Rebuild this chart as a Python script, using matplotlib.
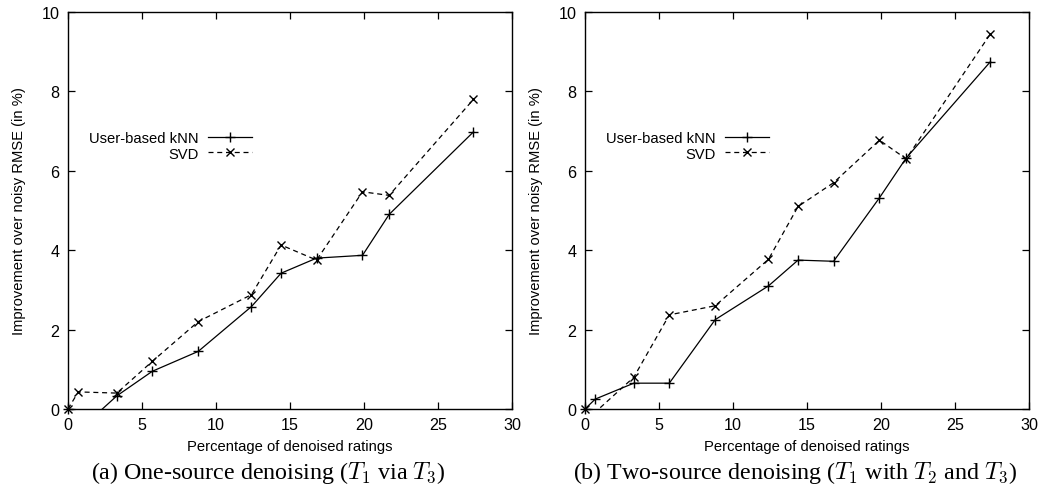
import numpy as np
import matplotlib
matplotlib.use('Agg')
import matplotlib.pyplot as plt

plt.rcParams['font.family'] = ['Liberation Sans', 'DejaVu Sans']
plt.rcParams['mathtext.fontset'] = 'cm'

# percentage of denoised ratings
pct = [0, 0.7, 3.3, 5.7, 8.8, 12.4, 14.4, 16.8, 19.9, 21.7, 27.4]

# (a) one-source denoising
knn_a = [0, -0.55, 0.33, 0.95, 1.45, 2.58, 3.42, 3.80, 3.87, 4.90, 6.98]
svd_a = [0, 0.43, 0.40, 1.20, 2.20, 2.88, 4.13, 3.75, 5.47, 5.38, 7.80]

# (b) two-source denoising
knn_b = [0, 0.25, 0.65, 0.65, 2.25, 3.10, 3.75, 3.72, 5.32, 6.32, 8.75]
svd_b = [0, -0.08, 0.80, 2.37, 2.60, 3.77, 5.10, 5.70, 6.77, 6.30, 9.45]

labels = ['User-based kNN', 'SVD']
captions = [r'(a) One-source denoising ($T_1$ via $T_3$)',
            r'(b) Two-source denoising ($T_1$ with $T_2$ and $T_3$)']

fig = plt.figure(figsize=(10.44, 4.89), dpi=100)
ax1 = fig.add_axes([0.0651, 0.1616, 0.4253, 0.8119])
ax2 = fig.add_axes([0.5603, 0.1616, 0.4253, 0.8119])

x = np.array(pct)
for ax, knn, svd in [(ax1, knn_a, svd_a), (ax2, knn_b, svd_b)]:
    handles = []
    for y, mk, ls, ms in [(knn, '+', '-', 7), (svd, 'x', (0, (4, 3)), 6)]:
        y = np.array(y)
        line, = ax.plot(x, y, color='black', lw=0.9, ls=ls)
        # markers on the axis edge stay fully visible, segments are clipped
        keep = y >= 0
        pts, = ax.plot(x[keep], y[keep], ls='none', color='black',
                       marker=mk, ms=ms, mew=1, clip_on=False)
        handles.append((line, pts))
    ax.set_xlim(0, 30)
    ax.set_ylim(0, 10)
    ax.set_xticks(range(0, 31, 5))
    ax.set_yticks(range(0, 11, 2))
    ax.tick_params(direction='in', top=True, right=True, length=5,
                   width=0.9, labelsize=11.6, pad=6)
    for s in ax.spines.values():
        s.set_linewidth(1.0)
    ax.set_xlabel('Percentage of denoised ratings', fontsize=10.6,
                  labelpad=5)
    ax.set_ylabel('Improvement over noisy RMSE (in %)', fontsize=10.6,
                  labelpad=11)
    ax.legend(handles, labels, loc='upper right',
              bbox_to_anchor=(0.414, 0.70), frameon=False,
              markerfirst=False, numpoints=1, fontsize=10.6,
              handlelength=3.0, handletextpad=0.6, labelspacing=0.1,
              borderpad=0, borderaxespad=0)

fig.text(268 / 1044, 1 - 473 / 489, captions[0], ha='center', va='center',
         fontsize=17.3, family='Liberation Serif')
fig.text(795 / 1044, 1 - 473 / 489, captions[1], ha='center', va='center',
         fontsize=17.3, family='Liberation Serif')

fig.savefig('out.png', dpi=100)
